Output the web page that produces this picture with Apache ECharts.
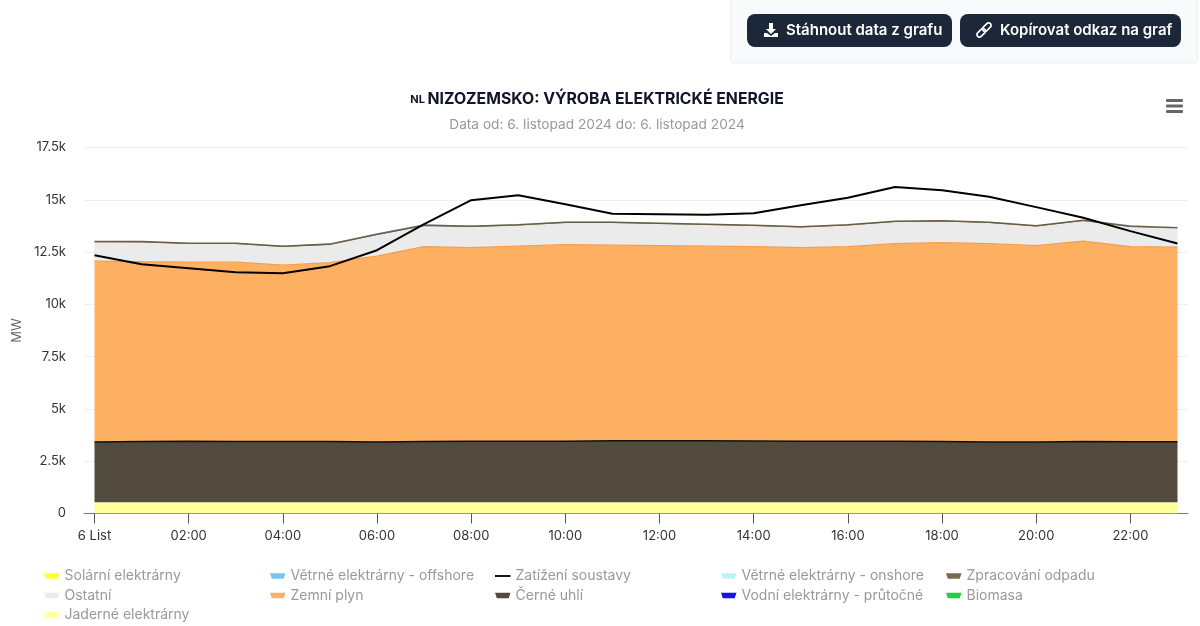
<!DOCTYPE html>
<html><head><meta charset="utf-8">
<style>html,body{margin:0;padding:0;background:#fff}#c{width:1200px;height:626px}</style>
<script src="https://cdn.jsdelivr.net/npm/echarts@6/dist/echarts.min.js"></script>
</head><body><div id="c"></div>
<script>
const hours=[0,1,2,3,4,5,6,7,8,9,10,11,12,13,14,15,16,17,18,19,20,21,22,23];
const tickHours=[0,2,4,6,8,10,12,14,16,18,20,22];
const tickLabels={0:'6 List',2:'02:00',4:'04:00',6:'06:00',8:'08:00',10:'10:00',12:'12:00',14:'14:00',16:'16:00',18:'18:00',20:'20:00',22:'22:00'};
const nuclear=[540,540,540,540,540,540,540,540,540,540,540,540,540,540,540,540,540,540,540,540,540,540,540,540];
const biomass=[0,0,0,0,0,0,0,0,0,0,0,0,0,0,0,0,0,0,0,0,0,0,0,0];
const hydro=[0,0,0,0,0,0,0,0,0,0,0,0,0,0,0,0,0,0,0,0,0,0,0,0];
const coal=[2873,2906,2920,2906,2897,2906,2882,2906,2920,2920,2920,2935,2935,2935,2930,2920,2911,2911,2902,2882,2873,2906,2892,2892];
const gas=[8652,8594,8557,8571,8436,8547,8882,9312,9250,9322,9394,9355,9331,9307,9288,9250,9307,9450,9507,9479,9393,9575,9326,9302];
const other=[905,920,868,868,867,847,1011,987,990,988,1036,1060,1034,1008,987,965,1012,1034,1011,989,914,964,942,891];
const waste=[40,40,40,40,40,40,40,40,40,40,40,40,40,40,40,40,40,40,40,40,40,40,40,40];
const onshore=[2,2,2,2,5,5,10,15,10,10,10,10,10,10,5,5,5,5,5,5,5,5,15,15];
const offshore=[0,0,0,0,15,20,30,30,15,10,5,5,5,5,0,0,0,0,0,0,0,5,25,30];
const solar=[0,0,0,0,0,0,0,0,0,5,8,10,10,8,5,0,0,0,0,0,0,0,0,0];
const load=[12352,11920,11730,11538,11491,11826,12590,13833,14980,15220,14790,14335,14310,14290,14360,14740,15100,15615,15460,15148,14650,14144,13500,12906];

const pair=a=>a.map((v,i)=>[v,hours[i]]);
const area=(name,data,fill,stroke,w,z)=>({name,type:'line',stack:'gen',data:pair(data),encode:{x:1,y:0},symbol:'none',silent:true,
  itemStyle:{color:fill},lineStyle:{color:stroke,width:w},areaStyle:{color:fill,opacity:1},z:z||2});
const trap='path://M0 0 L17 0 L15 6 L2 6 Z';
const legendCol=(left,names)=>({left,top:569,orient:'vertical',itemGap:5.5,itemWidth:15.5,itemHeight:7,padding:0,
  textStyle:{color:'#999',fontFamily:'Inter',fontSize:14,height:14,lineHeight:14},
  selectedMode:false,data:names.map(n=>({name:n,icon:n==='Zatížení soustavy'?'path://M0 0 L17 0 L17 2 L0 2 Z':trap}))});
const btn=(x,w,text,tx)=>[
 {type:'rect',silent:true,shape:{x,y:14,width:w,height:33,r:8},style:{fill:'#1c273a'}},
 {type:'text',silent:true,style:{x:tx,y:30.5,text,fill:'#fff',font:'600 15px Inter',textVerticalAlign:'middle'}}
];
const downloadIcon=[
 {type:'polygon',silent:true,shape:{points:[[769,23],[773,23],[773,29],[776,29],[771,34],[766,29],[769,29]]},style:{fill:'#fff'}},
 {type:'polygon',silent:true,shape:{points:[[764,33],[767,33],[771,36],[775,33],[778,33],[778,37],[764,37]]},style:{fill:'#fff'}}
];
const linkIcon=[
 {type:'rect',silent:true,x:986.8,y:27.2,rotation:-Math.PI/4,shape:{x:-2.5,y:-5,width:5,height:10,r:2.5},style:{fill:'none',stroke:'#fff',lineWidth:1.7}},
 {type:'rect',silent:true,x:981.2,y:32.8,rotation:-Math.PI/4,shape:{x:-2.5,y:-5,width:5,height:10,r:2.5},style:{fill:'none',stroke:'#fff',lineWidth:1.7}}
];

const chart=echarts.init(document.getElementById('c'));
chart.setOption({
 animation:false,backgroundColor:'#fff',textStyle:{fontFamily:'Inter'},
 title:[
  {left:592,top:86.5,textAlign:'center',text:'{a|NL }{b|NIZOZEMSKO: VÝROBA ELEKTRICKÉ ENERGIE}',
   textStyle:{rich:{a:{fontSize:11,fontWeight:700,color:'#11152b',fontFamily:'Inter'},b:{fontSize:15.8,fontWeight:700,color:'#11152b',fontFamily:'Inter'}}}},
  {left:592,top:113,textAlign:'center',text:'Data od: 6. listopad 2024 do: 6. listopad 2024',
   textStyle:{fontSize:13.7,fontWeight:400,color:'#999',fontFamily:'Inter'}}
 ],
 grid:{left:84,right:12,top:147.5,bottom:112.5,containLabel:false},
 xAxis:{type:'value',min:-0.223,max:23.223,splitLine:{show:false},
  axisLine:{show:true,onZero:false,lineStyle:{color:'#777'}},
  axisTick:{show:true,length:10,lineStyle:{color:'#555'},customValues:tickHours},
  axisLabel:{color:'#333',fontSize:13,margin:16,hideOverlap:false,customValues:tickHours,formatter:v=>tickLabels[v]||''}},
 yAxis:{type:'value',min:0,max:17500,interval:2500,name:'MW',nameLocation:'middle',nameGap:59,
  nameTextStyle:{color:'#666',fontSize:13},
  axisLine:{show:false},axisTick:{show:false},
  splitLine:{lineStyle:{color:'#eeeeee',width:1}},
  axisLabel:{color:'#333',fontSize:13,margin:18,formatter:v=>v===0?'0':(v/1000)+'k'}},
 legend:[
  legendCol(44,['Solární elektrárny','Ostatní','Jaderné elektrárny']),
  legendCol(270,['Větrné elektrárny - offshore','Zemní plyn']),
  legendCol(495,['Zatížení soustavy','Černé uhlí']),
  legendCol(721,['Větrné elektrárny - onshore','Vodní elektrárny - průtočné']),
  legendCol(946,['Zpracování odpadu','Biomasa'])
 ],
 series:[
  area('Jaderné elektrárny',nuclear,'#ffff9c','#ffff9c',0),
  area('Biomasa',biomass,'#22d03c','#22d03c',0),
  area('Vodní elektrárny - průtočné',hydro,'#1414e6','#1414e6',0),
  area('Černé uhlí',coal,'#534a3e','#111',1.5),
  area('Zemní plyn',gas,'#feb062','#f79c48',1.2),
  area('Ostatní',other,'#ebebeb','#ebebeb',0),
  area('Zpracování odpadu',waste,'#7a6a50','#6b5d45',1.5,3),
  area('Větrné elektrárny - onshore',onshore,'#bff3f3','#bff3f3',0),
  area('Větrné elektrárny - offshore',offshore,'#76c6ee','#76c6ee',0),
  area('Solární elektrárny',solar,'#ffff33','#ffff33',0),
  {name:'Zatížení soustavy',type:'line',data:pair(load),encode:{x:1,y:0},symbol:'none',silent:true,z:5,
   itemStyle:{color:'#000'},lineStyle:{color:'#000',width:2}}
 ],
 graphic:{elements:[
  {type:'rect',silent:true,shape:{x:730.5,y:-5,width:467,height:68,r:4},style:{fill:'#f8fafc',stroke:'#edf0f3',lineWidth:1}},
  ...btn(747,205,'Stáhnout data z grafu',786),
  ...btn(960,221,'Kopírovat odkaz na graf',1000),
  ...downloadIcon,...linkIcon,
  {type:'rect',silent:true,shape:{x:1166,y:99,width:17,height:3,r:1},style:{fill:'#666'}},
  {type:'rect',silent:true,shape:{x:1166,y:104.5,width:17,height:3,r:1},style:{fill:'#666'}},
  {type:'rect',silent:true,shape:{x:1166,y:110,width:17,height:3,r:1},style:{fill:'#666'}}
 ]}
});
</script></body></html>
